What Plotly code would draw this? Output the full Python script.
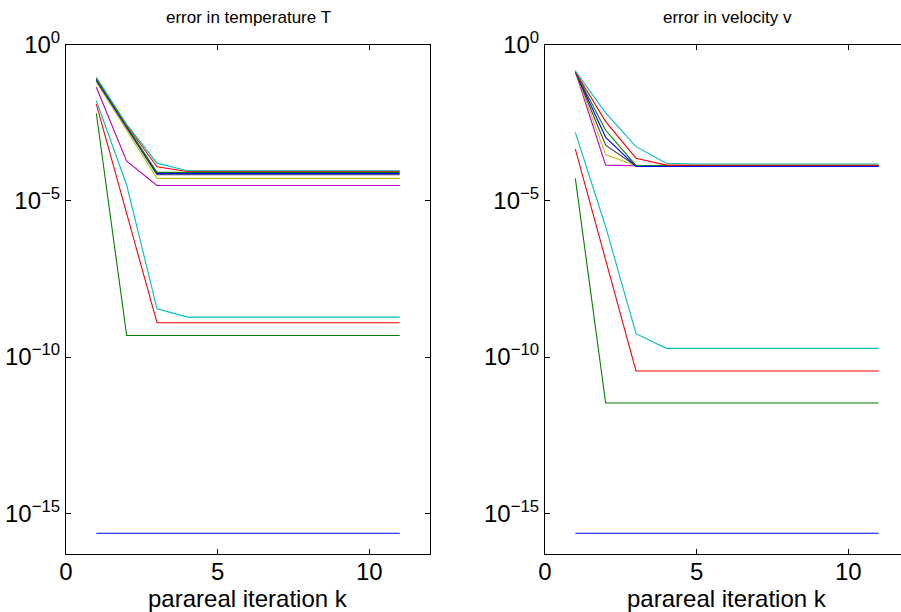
import plotly.graph_objects as go

k = [1, 2, 3, 4, 5, 6, 7, 8, 9, 10, 11]

# error in temperature T (one series per time window)
T_w1 = [2.3e-16] * 11
T_w2 = [6.3e-3] + [4.9e-10] * 10
T_w3 = [1.23e-2, 4.0e-6] + [1.26e-9] * 9
T_w4 = [1.58e-2, 3.2e-5, 3.5e-9] + [1.9e-9] * 8
T_w5 = [4.3e-2, 1.86e-4] + [3.1e-5] * 9
T_w6 = [6.3e-2, 1.8e-3] + [5.2e-5] * 9
T_w7 = [7.1e-2, 2.1e-3] + [6.8e-5] * 9
T_w8 = [7.4e-2, 2.2e-3] + [7.4e-5] * 9
T_w9 = [7.9e-2, 2.4e-3] + [8.1e-5] * 9
T_w10 = [8.5e-2, 2.6e-3, 1.23e-4] + [8.7e-5] * 8
T_w11 = [8.9e-2, 2.8e-3, 1.6e-4] + [9.1e-5] * 8

# error in velocity v
V_w1 = [2.3e-16] * 11
V_w2 = [5.2e-5] + [3.4e-12] * 10
V_w3 = [4.5e-4, 1.26e-7] + [3.6e-11] * 9
V_w4 = [1.55e-3, 1.48e-6, 5.6e-10] + [1.9e-10] * 8
V_w5 = [0.135, 1.38e-4] + [1.32e-4] * 9
V_w6 = [0.135, 3.0e-4] + [1.32e-4] * 9
V_w7 = [0.135, 6.0e-4] + [1.30e-4] * 9
V_w8 = [0.135, 1.07e-3] + [1.26e-4] * 9
V_w9 = [0.135, 1.8e-3] + [1.35e-4] * 9
V_w10 = [0.135, 3.4e-3, 2.3e-4] + [1.38e-4] * 8
V_w11 = [0.145, 6.5e-3, 5.4e-4, 1.58e-4] + [1.5e-4] * 7

T_series = [T_w1, T_w2, T_w3, T_w4, T_w5, T_w6, T_w7, T_w8, T_w9, T_w10, T_w11]
V_series = [V_w1, V_w2, V_w3, V_w4, V_w5, V_w6, V_w7, V_w8, V_w9, V_w10, V_w11]

colors = ["#0000FF", "#008000", "#FF0000", "#00BFBF", "#BF00BF",
          "#BFBF00", "#404040"]

y_tickvals = [1e-15, 1e-10, 1e-5, 1]
y_ticktext = ["10<sup>\u221215</sup>", "10<sup>\u221210</sup>",
              "10<sup>\u22125</sup>", "10<sup>0</sup>"]
x_tickvals = [0, 5, 10]

W, H = 901, 612
FONT = "Liberation Sans, Arial, Helvetica, sans-serif"

fig = go.Figure()
for i, s in enumerate(T_series):
    fig.add_trace(go.Scatter(x=k, y=s, mode="lines", xaxis="x", yaxis="y",
                             line=dict(color=colors[i % 7], width=1.1),
                             showlegend=False))
for i, s in enumerate(V_series):
    fig.add_trace(go.Scatter(x=k, y=s, mode="lines", xaxis="x2", yaxis="y2",
                             line=dict(color=colors[i % 7], width=1.1),
                             showlegend=False))

ydom = [(H - 554) / H, (H - 44.5) / H]
px_per_unit = 30.33
right_left = 545
right_range_end = (W - right_left) / px_per_unit

axis_common = dict(showgrid=False, zeroline=False, showline=True,
                   linecolor="black", linewidth=1, ticks="inside",
                   ticklen=5, tickcolor="black", automargin=False,
                   tickfont=dict(family=FONT, size=24, color="black"))

fig.update_layout(
    template="none",
    width=W, height=H,
    margin=dict(l=0, r=0, t=0, b=0, pad=0),
    paper_bgcolor="white", plot_bgcolor="white",
    xaxis=dict(domain=[66 / W, 430 / W], range=[0, 12], tickvals=x_tickvals,
               mirror="ticks", anchor="y", ticklabelstandoff=-4, **axis_common),
    yaxis=dict(domain=ydom, type="log", range=[-16.3, 0], tickvals=y_tickvals,
               ticktext=y_ticktext, mirror="ticks", anchor="x", **axis_common),
    xaxis2=dict(domain=[right_left / W, 1.0], range=[0, right_range_end],
                tickvals=x_tickvals, mirror="ticks", anchor="y2",
                ticklabelstandoff=-4, **axis_common),
    yaxis2=dict(domain=ydom, type="log", range=[-16.3, 0], tickvals=y_tickvals,
                ticktext=y_ticktext, mirror=False, anchor="x2", **axis_common),
    font=dict(family=FONT, color="black"),
)

annots = [
    ("error in temperature T", (66 + 430) / 2, 17, 17),
    ("error in velocity v", right_left + 182, 17, 17),
    ("parareal iteration k", (66 + 430) / 2, 598.5, 24),
    ("parareal iteration k", right_left + 182, 598.5, 24),
]
for text, xp, yp, size in annots:
    fig.add_annotation(text=text, xref="paper", yref="paper",
                       x=xp / W, y=1 - yp / H, xanchor="center",
                       yanchor="middle", showarrow=False,
                       font=dict(family=FONT, size=size, color="black"))

fig.write_html("out.html")
